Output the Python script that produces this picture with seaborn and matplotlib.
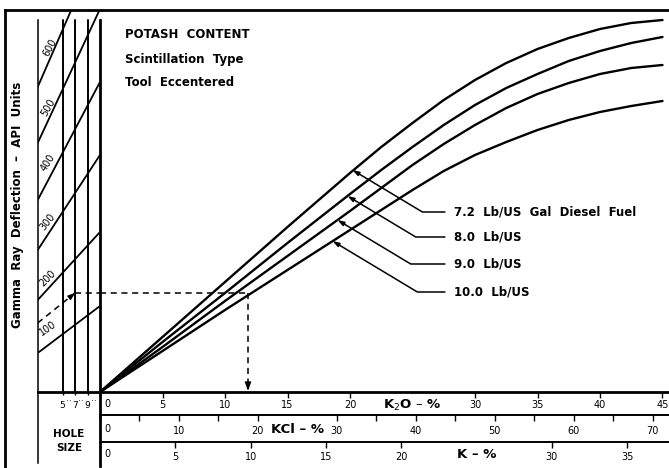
import matplotlib
matplotlib.use("Agg")
import matplotlib.pyplot as plt
import seaborn as sns
import pandas as pd

# ---------------- data ----------------
k2o_pct = [0, 5, 10, 15, 20, 22.5, 25, 27.5, 30, 32.5, 35, 37.5, 40, 42.5, 45]
defl_72 = [0, 55, 110, 165, 219, 245, 269, 292, 312, 329, 343, 354, 363, 369, 372]
defl_80 = [0, 50, 99, 149, 198, 222, 245, 267, 287, 304, 318, 331, 341, 349, 355]
defl_90 = [0, 45, 91, 136, 181, 204, 227, 248, 267, 284, 298, 309, 318, 324, 327]
defl_100 = [0, 41, 82, 122, 162, 182, 202, 221, 237, 250, 262, 272, 280, 286, 291]
mud_names = ["7.2  Lb/US  Gal  Diesel  Fuel", "8.0  Lb/US", "9.0  Lb/US", "10.0  Lb/US"]
pointer_k2o = [20.2, 19.8, 19.0, 18.6]
pointer_defl = [222, 196, 172, 151]
label_defl = [180, 155, 128, 100]

api_levels = [100, 200, 300, 400, 500, 600]
hole_edges = [1, 11]
api_defl_small_hole = [39, 92, 142, 192, 249, 305]
api_defl_large_hole = [86, 160, 237, 310, 383, 448]
api_label_hole = [2.65, 2.65, 2.65, 2.65, 2.65, 2.97]
api_label_defl = [64, 114, 170, 229, 285, 345]
api_label_rot = [35, 45, 52, 58, 60, 62]
hole_sizes = [5, 7, 9]

example_hole = [1, 7]
example_defl = [69, 99]
example_k2o = 11.84

k2o_ticks = [0, 5, 10, 15, 20, 30, 35, 40, 45]
kcl_ticks = [0, 10, 20, 30, 40, 50, 60, 70]
kcl_minor = [5, 15, 35, 45, 55, 65]
k_ticks = [0, 5, 10, 15, 20, 30, 35]
KCL_PER_K2O = 1.583
K_PER_K2O = 0.830

title_lines = ["POTASH  CONTENT", "Scintillation  Type", "Tool  Eccentered"]
ylabel_text = "Gamma  Ray  Deflection  –  API  Units"

# ---------------- figure ----------------
sns.set_style("white")
FAM = ["Liberation Sans Narrow", "DejaVu Sans"]
plt.rcParams["font.family"] = FAM
plt.rcParams["text.color"] = "black"
plt.rcParams["axes.labelcolor"] = "black"
plt.rcParams["xtick.color"] = "black"
plt.rcParams["ytick.color"] = "black"
plt.rcParams["axes.edgecolor"] = "black"
W, H = 669, 468
fig = plt.figure(figsize=(W / 100, H / 100), dpi=100)


def box(x0, y0, x1, y1):
    return [x0 / W, 1 - y1 / H, (x1 - x0) / W, (y1 - y0) / H]


PX_PER_K2O = 12.5
XMAX = (W - 100) / PX_PER_K2O
YMAX = 382
TOP = 372

# outer frame
fr = fig.add_axes([5 / W, -0.1, 1.0, (H - 10) / H + 0.1])
fr.set_facecolor("none")
for s in ["right", "bottom"]:
    fr.spines[s].set_visible(False)
for s in ["left", "top"]:
    fr.spines[s].set_linewidth(2)
    fr.spines[s].set_color("black")
fr.set_xticks([]); fr.set_yticks([])

# main chart
ax = fig.add_axes(box(100, 10, W, 392))
ax.set_facecolor("none")
df = pd.DataFrame({
    "K2O": k2o_pct * 4,
    "defl": defl_72 + defl_80 + defl_90 + defl_100,
    "mud": sum([[m] * len(k2o_pct) for m in mud_names], []),
})
sns.lineplot(data=df, x="K2O", y="defl", hue="mud", palette=["black"] * 4,
             estimator=None, legend=False, lw=1.7, ax=ax)
ax.set_xlim(0, XMAX)
ax.set_ylim(0, YMAX)
ax.set_xlabel(""); ax.set_ylabel("")
for s in ["top", "right"]:
    ax.spines[s].set_visible(False)
ax.spines["left"].set_bounds(0, TOP)
ax.spines["left"].set_linewidth(2)
ax.spines["bottom"].set_linewidth(2)
for s in ax.spines.values():
    s.set_color("black")
ax.set_yticks([])
ax.set_xticks(k2o_ticks, ["" if t == 0 else str(t) for t in k2o_ticks])
ax.tick_params(axis="x", direction="out", length=4, width=1, pad=2,
               labelsize=7, colors="black", bottom=True)
xt = ax.get_xaxis_transform()
ax.text(25, -0.034, "K$_2$O – %", transform=xt, ha="center", va="center",
        fontsize=9.5, fontweight="bold")
ax.annotate("0", xy=(0, -0.031), xycoords=xt, xytext=(3, 0),
            textcoords="offset points", ha="left", va="center", fontsize=7)

for i, line in enumerate(title_lines):
    ax.text(2.0, 357 - i * 24, line, ha="left", va="center", fontsize=8.5,
            fontweight="bold")

for name, xc, yc, yt in zip(mud_names, pointer_k2o, pointer_defl, label_defl):
    ax.annotate(name, xy=(xc, yc), xytext=(28.3, yt), ha="left", va="center",
                fontsize=8.5, fontweight="bold",
                arrowprops=dict(arrowstyle="-|>,head_length=0.45,head_width=0.15",
                                connectionstyle="angle,angleA=0,angleB=-31,rad=0",
                                lw=1.1, color="black", shrinkA=4, shrinkB=0,
                                relpos=(0, 0.5)))

# worked example in the main chart
dash = (0, (4, 3))
ax.plot([0, example_k2o], [example_defl[1], example_defl[1]], color="black",
        lw=1.1, ls=dash)
ax.plot([example_k2o, example_k2o], [example_defl[1], 6], color="black",
        lw=1.1, ls=dash)
ax.annotate("", xy=(example_k2o, 1), xytext=(example_k2o, 8),
            arrowprops=dict(arrowstyle="-|>,head_length=0.5,head_width=0.18",
                            lw=1, color="black", shrinkA=0, shrinkB=0))

# left panel (hole size / API)
axl = fig.add_axes(box(37.7, 10, 100, 392))
axl.set_facecolor("none")
axl.set_xlim(hole_edges[0], hole_edges[1])
axl.set_ylim(0, YMAX)
for s in ["top", "right"]:
    axl.spines[s].set_visible(False)
axl.spines["left"].set_bounds(0, TOP)
axl.spines["left"].set_linewidth(1.1)
axl.spines["bottom"].set_linewidth(2)
for s in axl.spines.values():
    s.set_color("black")
for h in hole_sizes:
    axl.plot([h, h], [0, TOP], color="black", lw=1.4)
for lvl, d0, d1, lx, ly, rot in zip(api_levels, api_defl_small_hole,
                                    api_defl_large_hole, api_label_hole,
                                    api_label_defl, api_label_rot):
    axl.plot(hole_edges, [d0, d1], color="black", lw=1.3)
    axl.text(lx, ly, str(lvl), rotation=rot, ha="center", va="center",
             fontsize=7, rotation_mode="anchor")
axl.plot(example_hole, example_defl, color="black", lw=1.1, ls=dash)
axl.plot([example_hole[1], hole_edges[1]], [example_defl[1]] * 2,
         color="black", lw=1.1, ls=dash)
axl.annotate("", xy=(example_hole[1], example_defl[1]),
             xytext=(example_hole[1] - 0.8, example_defl[1] - 4),
             arrowprops=dict(arrowstyle="-|>,head_length=0.4,head_width=0.15",
                             lw=1, color="black", shrinkA=0, shrinkB=0))
axl.set_yticks([])
axl.set_xticks(hole_sizes, [str(h) for h in hole_sizes])
axl.set_xticks([6, 8, 10], ["··", "··", "··"], minor=True)
axl.tick_params(axis="x", which="major", direction="out", length=2.5, width=1,
                pad=4, labelsize=6.5, bottom=True)
axl.tick_params(axis="x", which="minor", length=0, pad=4, labelsize=6.5,
                bottom=True)
axl.text(6.0, -49, "HOLE\nSIZE", ha="center", va="center", fontsize=7.5,
         fontweight="bold", linespacing=1.6, clip_on=False)

# left panel lower border
axlf = fig.add_axes(box(37.7, 392, 100, 463))
axlf.set_facecolor("none")
for s in ["top", "right", "bottom"]:
    axlf.spines[s].set_visible(False)
axlf.spines["left"].set_linewidth(1.1)
axlf.spines["left"].set_color("black")
axlf.set_xticks([]); axlf.set_yticks([])

# KCl scale row
axk = fig.add_axes(box(100, 392, W, 415))
axk.set_facecolor("none")
axk.set_xlim(0, XMAX * KCL_PER_K2O)
for s in ["top", "right"]:
    axk.spines[s].set_visible(False)
axk.spines["left"].set_linewidth(2)
axk.spines["bottom"].set_linewidth(1.4)
for s in axk.spines.values():
    s.set_color("black")
axk.set_yticks([])
axk.set_xticks(kcl_ticks, ["" if t == 0 else str(t) for t in kcl_ticks])
axk.set_xticks(kcl_minor, minor=True)
axk.tick_params(axis="x", which="both", direction="out", length=4, width=1,
                pad=4, labelsize=7, bottom=True)
kt = axk.get_xaxis_transform()
axk.text(25, -0.65, "KCl – %", transform=kt, ha="center", va="center",
         fontsize=9.5, fontweight="bold")
axk.annotate("0", xy=(0, -0.62), xycoords=kt, xytext=(3, 0),
             textcoords="offset points", ha="left", va="center", fontsize=7)

# K scale row
axp = fig.add_axes(box(100, 415, W, 442))
axp.set_facecolor("none")
axp.set_xlim(0, XMAX * K_PER_K2O)
for s in ["top", "right"]:
    axp.spines[s].set_visible(False)
axp.spines["left"].set_linewidth(2)
axp.spines["bottom"].set_linewidth(1.4)
for s in axp.spines.values():
    s.set_color("black")
axp.set_yticks([])
axp.set_xticks(k_ticks, ["" if t == 0 else str(t) for t in k_ticks])
axp.tick_params(axis="x", direction="out", length=4, width=1, pad=3,
                labelsize=7, bottom=True)
pt = axp.get_xaxis_transform()
axp.text(25, -0.48, "K – %", transform=pt, ha="center", va="center",
         fontsize=9.5, fontweight="bold")
axp.annotate("0", xy=(0, -0.46), xycoords=pt, xytext=(3, 0),
             textcoords="offset points", ha="left", va="center", fontsize=7)

# lower continuation of the main vertical line
axf = fig.add_axes(box(100, 442, W, 466))
axf.set_facecolor("none")
for s in ["top", "right", "bottom"]:
    axf.spines[s].set_visible(False)
axf.spines["left"].set_linewidth(2)
axf.spines["left"].set_color("black")
axf.set_xticks([]); axf.set_yticks([])

fig.text(18 / W, 1 - 205 / H, ylabel_text, rotation=90, ha="center",
         va="center", fontsize=8.5, fontweight="bold")

fig.savefig("out.png", dpi=100)
